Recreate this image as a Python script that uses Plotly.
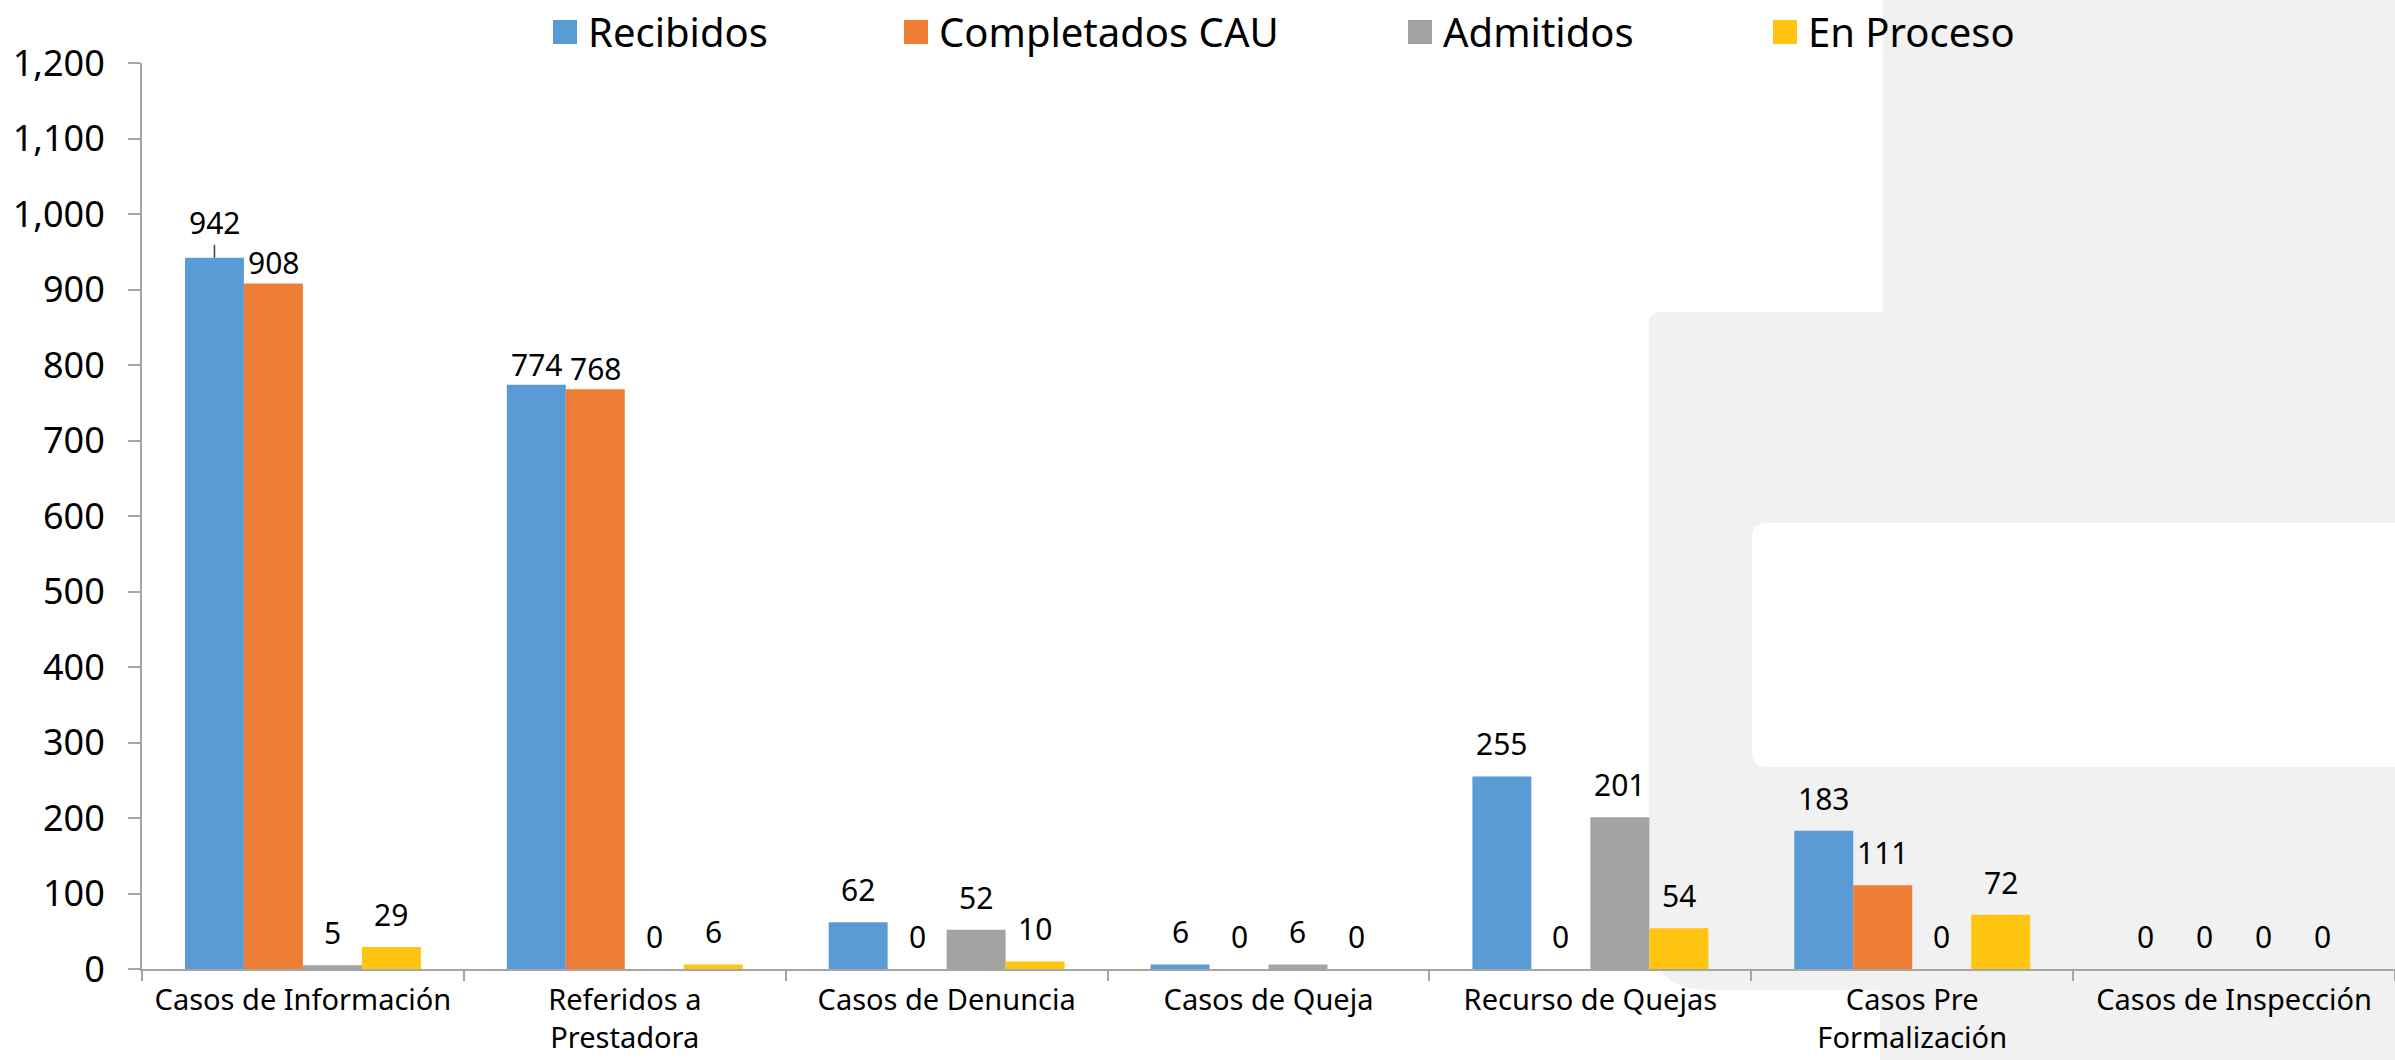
import plotly.graph_objects as go

# ---------------- data ----------------
categories = [
    "Casos de Información",
    "Referidos a<br>Prestadora",
    "Casos de Denuncia",
    "Casos de Queja",
    "Recurso de Quejas",
    "Casos Pre<br>Formalización",
    "Casos de Inspección",
]
series_names = ["Recibidos", "Completados CAU", "Admitidos", "En Proceso"]
recibidos = [942, 774, 62, 6, 255, 183, 0]
completados_cau = [908, 768, 0, 0, 0, 111, 0]
admitidos = [5, 0, 52, 6, 201, 0, 0]
en_proceso = [29, 6, 10, 0, 54, 72, 0]
series_values = [recibidos, completados_cau, admitidos, en_proceso]
series_colors = ["#5B9BD5", "#EE7D36", "#A3A3A3", "#FFC511"]
y_ticks = list(range(0, 1201, 100))

# ---------------- geometry (pixels) ----------------
W, H = 2395, 1060
ML, MR, MT, MB = 142, 0, 63, 91
PW, PH = W - ML - MR, H - MT - MB
FONT = "Noto Sans"
BARGAP = 0.267


def px(x):
    return (x - ML) / PW


def py(y):
    return (H - MB - y) / PH


def rrect(x0, y0, x1, y1, r=(0, 0, 0, 0)):
    """rounded rect path in paper coords; r = (tl, tr, br, bl) radii in px"""
    tl, tr, br, bl = r
    pts = [f"M{px(x0 + tl)},{py(y0)}", f"L{px(x1 - tr)},{py(y0)}"]
    if tr:
        pts.append(f"Q{px(x1)},{py(y0)} {px(x1)},{py(y0 + tr)}")
    pts.append(f"L{px(x1)},{py(y1 - br)}")
    if br:
        pts.append(f"Q{px(x1)},{py(y1)} {px(x1 - br)},{py(y1)}")
    pts.append(f"L{px(x0 + bl)},{py(y1)}")
    if bl:
        pts.append(f"Q{px(x0)},{py(y1)} {px(x0)},{py(y1 - bl)}")
    pts.append(f"L{px(x0)},{py(y0 + tl)}")
    if tl:
        pts.append(f"Q{px(x0)},{py(y0)} {px(x0 + tl)},{py(y0)}")
    pts.append("Z")
    return " ".join(pts)


BG_GRAY = "#F0F1F0"
shapes = [
    dict(type="path", xref="paper", yref="paper", layer="below", line_width=0,
         fillcolor=BG_GRAY, path=rrect(1883, -5, W + 5, 330)),
    dict(type="path", xref="paper", yref="paper", layer="below", line_width=0,
         fillcolor=BG_GRAY, path=rrect(1649, 312, W + 5, 990, (12, 0, 0, 60))),
    dict(type="path", xref="paper", yref="paper", layer="below", line_width=0,
         fillcolor=BG_GRAY, path=rrect(1880, 975, W + 5, H + 5)),
    dict(type="path", xref="paper", yref="paper", layer="below", line_width=0,
         fillcolor="#FFFFFF", path=rrect(1752, 523, W + 10, 767, (15, 0, 0, 15))),
]

# per-label vertical nudges (pixels) where the reference labels sit closer to the bar
label_shift = {(1, 0): -2, (0, 1): -2, (1, 1): -2}

# ---------------- figure ----------------
fig = go.Figure()
n_series = len(series_names)
bar_w = (1 - BARGAP) / n_series
annotations = []
for si, (name, vals, col) in enumerate(zip(series_names, series_values, series_colors)):
    fig.add_trace(go.Bar(
        name=name, x=categories, y=vals,
        marker=dict(color=col, line_width=0),
        showlegend=False,
    ))
    # data labels, placed above each bar via the axis scales
    off = -(1 - BARGAP) / 2 + (si + 0.5) * bar_w
    for ci, v in enumerate(vals):
        a = dict(x=ci + off, y=v, xref="x", yref="y", text=f"{v:,}",
                 font=dict(family=FONT, size=30, color="#000000"),
                 xanchor="center", yanchor="bottom", showarrow=False,
                 yshift=label_shift.get((si, ci), 10))
        if si == 0 and ci == 0:
            # the first label has a short leader line in the reference
            a.update(showarrow=True, arrowhead=0, arrowwidth=1.5, arrowcolor="#404040",
                     ax=0, ay=-35, standoff=0, yanchor="middle", yshift=0)
        annotations.append(a)

# legend drawn as squares + text annotations (to match the large legend keys)
legend_x = [553, 904, 1408, 1773]
for name, col, lx in zip(series_names, series_colors, legend_x):
    shapes.append(dict(type="rect", xref="paper", yref="paper", line_width=0,
                       fillcolor=col, x0=px(lx), x1=px(lx + 24), y0=py(44), y1=py(20)))
    annotations.append(dict(text=name, xref="paper", yref="paper", x=px(lx + 33), y=py(32),
                            xanchor="left", yanchor="middle", showarrow=False,
                            font=dict(family=FONT, size=40, color="#000000")))

fig.update_layout(
    width=W, height=H,
    margin=dict(l=ML, r=MR, t=MT, b=MB, autoexpand=False),
    paper_bgcolor="#FFFFFF", plot_bgcolor="rgba(0,0,0,0)",
    barmode="group", bargap=BARGAP, bargroupgap=0,
    font=dict(family=FONT, color="#000000"),
    shapes=shapes, annotations=annotations,
    showlegend=False,
)
fig.update_yaxes(
    range=[0, 1200], tickvals=y_ticks, tickformat=",",
    showgrid=False, zeroline=False,
    showline=True, linecolor="#A6A6A6", linewidth=2,
    ticks="outside", ticklen=12, tickcolor="#A6A6A6", tickwidth=2,
    tickfont=dict(family=FONT, size=36, color="#000000"),
    ticklabelstandoff=16,
)
fig.update_xaxes(
    showgrid=False, zeroline=False,
    showline=True, linecolor="#A6A6A6", linewidth=2,
    ticks="outside", tickson="boundaries", ticklen=10, tickcolor="#A6A6A6", tickwidth=2,
    tickfont=dict(family=FONT, size=29, color="#000000"),
    ticklabelstandoff=4,
)

fig.write_html("out.html", config={"displayModeBar": False},
               post_script="document.body.style.margin='0';")
